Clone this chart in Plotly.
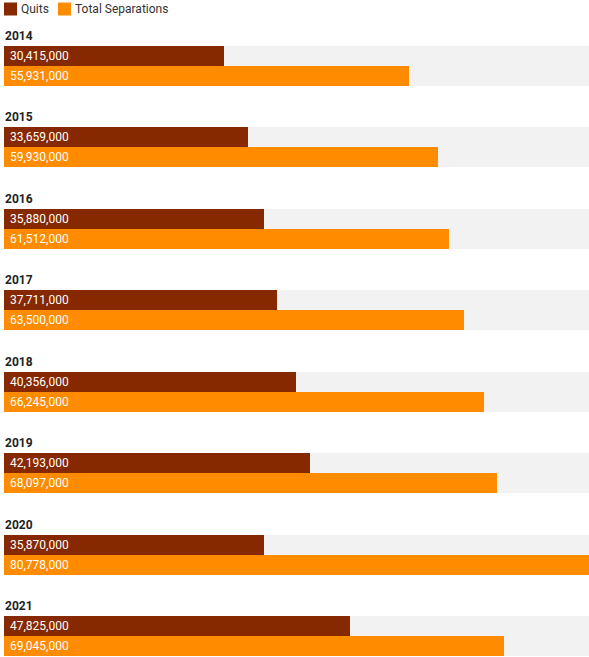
import plotly.graph_objects as go

years = ["2014", "2015", "2016", "2017", "2018", "2019", "2020", "2021"]
quits = [30415000, 33659000, 35880000, 37711000, 40356000, 42193000, 35870000, 47825000]
total_separations = [55931000, 59930000, 61512000, 63500000, 66245000, 68097000, 80778000, 69045000]
series_names = ["Quits", "Total Separations"]

QUITS_COLOR = "#862800"
SEP_COLOR = "#ff8c00"
BG_COLOR = "#f2f2f2"
FONT = "Roboto, 'Noto Sans', Arial, sans-serif"

n = len(years)
bar_w = 0.2456
idx = list(range(n))
y_quits = [i for i in idx]
y_sep = [i + bar_w for i in idx]
y_bg = [i + bar_w / 2 for i in idx]
xmax = max(total_separations)

fig = go.Figure()
fig.add_trace(go.Bar(
    y=y_bg, x=[xmax] * n, orientation="h", width=2 * bar_w,
    marker=dict(color=BG_COLOR, line=dict(width=0)),
    showlegend=False, hoverinfo="skip",
))
fig.add_trace(go.Bar(
    y=y_quits, x=quits, orientation="h", width=bar_w, name=series_names[0],
    marker=dict(color=QUITS_COLOR, line=dict(width=0)),
    texttemplate="\u00a0%{x:,}", textposition="inside",
    insidetextanchor="start", constraintext="none",
    textfont=dict(color="white", size=12, family=FONT),
    showlegend=False,
))
fig.add_trace(go.Bar(
    y=y_sep, x=total_separations, orientation="h", width=bar_w, name=series_names[1],
    marker=dict(color=SEP_COLOR, line=dict(width=0)),
    texttemplate="\u00a0%{x:,}", textposition="inside",
    insidetextanchor="start", constraintext="none",
    textfont=dict(color="white", size=12, family=FONT),
    showlegend=False,
))

for i, yr in enumerate(years):
    fig.add_annotation(
        x=0, y=i - bar_w / 2, xref="x", yref="y", text="<b>" + yr + "</b>",
        xanchor="left", yanchor="bottom", yshift=1, xshift=-1, showarrow=False,
        font=dict(size=12, color="#222222", family=FONT),
    )

# manual legend (paper coordinates: plot area is 585 x 633 px, offset l=4, t=24)
W, H, L, T, FH = 585.0, 633.0, 4.0, 24.0, 657.0
def px(x):
    return (x - L) / W
def py(y):
    return (FH - y) / H

legend_items = [(series_names[0], QUITS_COLOR, 4, 17, 19), (series_names[1], SEP_COLOR, 58, 71, 73)]
for name, color, x0, x1, tx in legend_items:
    fig.add_shape(type="rect", xref="paper", yref="paper",
                  x0=px(x0), x1=px(x1), y0=py(15.5), y1=py(2.5),
                  fillcolor=color, line=dict(width=0))
    fig.add_annotation(x=px(tx), y=py(9), xref="paper", yref="paper", text=name,
                       xanchor="left", yanchor="middle", showarrow=False,
                       font=dict(size=12, color="#333333", family=FONT))

fig.update_layout(
    width=589, height=657,
    margin=dict(l=4, r=0, t=24, b=0),
    paper_bgcolor="white", plot_bgcolor="white",
    barmode="overlay", bargap=0,
    font=dict(family=FONT, size=12, color="#333333"),
    showlegend=False,
    xaxis=dict(range=[0, xmax], visible=False, fixedrange=True),
    yaxis=dict(range=[7.380, -0.393], visible=False, fixedrange=True),
)

fig.write_html("out.html", config={"displayModeBar": False},
               post_script="document.body.style.margin='0';document.body.style.overflow='hidden';")
